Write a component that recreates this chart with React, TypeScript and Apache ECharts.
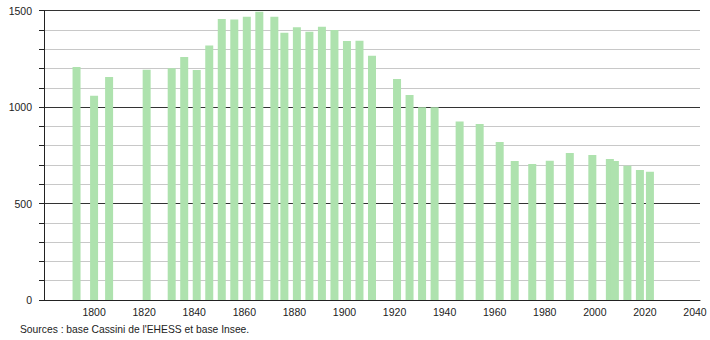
import React, { useEffect, useRef } from "react";
import * as echarts from "echarts";

const years = [
  1793, 1800, 1806, 1821, 1831, 1836, 1841, 1846, 1851, 1856, 1861, 1866, 1872,
  1876, 1881, 1886, 1891, 1896, 1901, 1906, 1911, 1921, 1926, 1931, 1936, 1946,
  1954, 1962, 1968, 1975, 1982, 1990, 1999, 2006, 2008, 2013, 2018, 2022,
];
const population = [
  1208, 1059, 1156, 1194, 1201, 1260, 1192, 1319, 1457, 1455, 1469, 1495, 1469,
  1386, 1414, 1391, 1417, 1400, 1343, 1344, 1267, 1146, 1063, 999, 999, 925,
  913, 819, 721, 705, 722, 762, 752, 731, 721, 696, 674, 665,
];
const xTickLabels = [1800, 1820, 1840, 1860, 1880, 1900, 1920, 1940, 1960, 1980, 2000, 2020, 2040];
const yTickLabels = [0, 500, 1000, 1500];
const sourceText = "Sources : base Cassini de l'EHESS et base Insee.";

const FONT = "'Liberation Sans', Arial, sans-serif";

export default function App() {
  const ref = useRef<HTMLDivElement>(null);
  useEffect(() => {
    if (!ref.current) return;
    const chart = echarts.init(ref.current, null, { renderer: "svg" });
    chart.setOption({
      animation: false,
      backgroundColor: "#ffffff",
      grid: { left: 44, right: 10, top: 10.7, bottom: 40, containLabel: false },
      xAxis: {
        type: "value",
        min: 1780,
        max: 2042,
        interval: 20,
        axisLine: { show: true, lineStyle: { color: "#222", width: 1 } },
        axisTick: { show: false },
        splitLine: { show: false },
        axisLabel: {
          color: "#222",
          fontFamily: FONT,
          fontSize: 10.5,
          margin: 6,
          showMinLabel: true,
          showMaxLabel: true,
          formatter: (v: number) => (xTickLabels.includes(v) ? String(v) : ""),
        },
      },
      yAxis: [
        {
          type: "value",
          min: 0,
          max: 1500,
          interval: 100,
          position: "left",
          axisLine: { show: false },
          axisTick: { show: true, length: 5, lineStyle: { color: "#222" } },
          axisLabel: { show: false },
          splitLine: { show: true, lineStyle: { color: "#c8c8c8", width: 1 } },
        },
        {
          type: "value",
          min: 0,
          max: 1500,
          interval: 500,
          position: "left",
          axisLine: { show: true, onZero: false, lineStyle: { color: "#222", width: 1 } },
          axisTick: { show: true, length: 5, lineStyle: { color: "#222" } },
          axisLabel: {
            color: "#222",
            fontFamily: FONT,
            fontSize: 10.5,
            margin: 12,
            formatter: (v: number) => (yTickLabels.includes(v) ? String(v) : ""),
          },
          splitLine: { show: true, lineStyle: { color: "#333", width: 1 } },
        },
      ],
      series: [
        {
          type: "bar",
          yAxisIndex: 0,
          barWidth: 8,
          itemStyle: { color: "#aee2ae" },
          data: years.map((y, i) => [y, population[i]]),
        },
      ],
      graphic: [
        {
          type: "text",
          left: 20,
          top: 324,
          style: {
            text: sourceText,
            fill: "#222",
            font: `10.3px ${FONT}`,
          },
        },
      ],
    });
    return () => chart.dispose();
  }, []);
  return (
    <div
      ref={ref}
      style={{ position: "fixed", left: 0, top: 0, width: 710, height: 340 }}
    />
  );
}
